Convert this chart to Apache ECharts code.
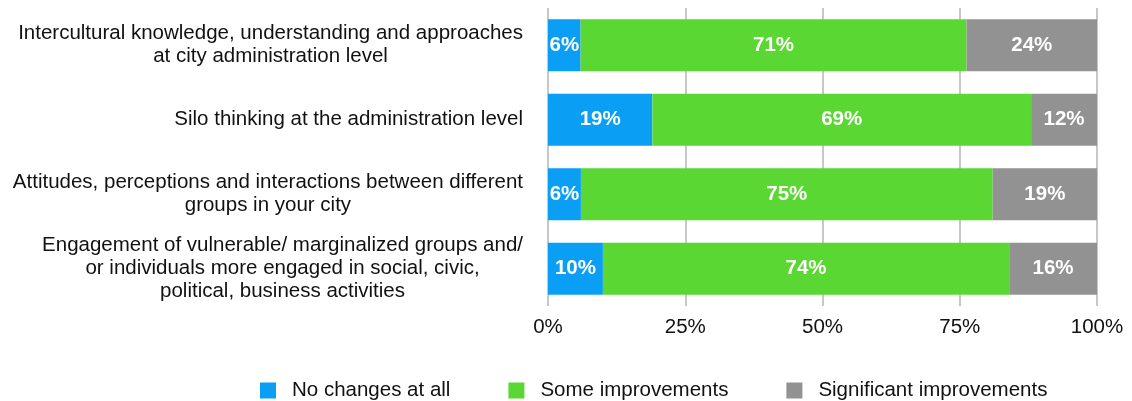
<!DOCTYPE html>
<html>
<head>
<meta charset="utf-8">
<title>Perceived changes</title>
<script src="https://cdn.jsdelivr.net/npm/echarts@6/dist/echarts.min.js"></script>
<style>
  html, body { margin: 0; padding: 0; background: #ffffff; }
  #chart { width: 1132px; height: 401px; }
</style>
</head>
<body>
<div id="chart"></div>
<script>
// Survey answers, one entry per area of change (top to bottom)
const categories = [
  'Intercultural knowledge, understanding and approaches\nat city administration level',
  'Silo thinking at the administration level',
  'Attitudes, perceptions and interactions between different\ngroups in your city',
  'Engagement of vulnerable/ marginalized groups and/\nor individuals more engaged in social, civic,\npolitical, business activities'
];
const noChanges = [6, 19, 6, 10];
const someImprovements = [71, 69, 75, 74];
const significantImprovements = [24, 12, 19, 16];
const seriesNames = ['No changes at all', 'Some improvements', 'Significant improvements'];
const xTickValues = [0, 25, 50, 75, 100];

const colors = ['#0a9ff5', '#5bd733', '#929292'];
const FONT = '"Liberation Sans", Arial, Helvetica, sans-serif';
const FS = 20.5;

// Each row is shown as shares of its own total (100% stacked)
const rows = [noChanges, someImprovements, significantImprovements];
const totals = categories.map((_, i) => rows.reduce((s, r) => s + r[i], 0));
const shareOf = (arr) => arr.map((v, i) => ({ value: v / totals[i] * 100, raw: v }));

const chart = echarts.init(document.getElementById('chart'), null, { renderer: 'canvas' });

const barSeries = rows.map((arr, k) => ({
  name: seriesNames[k],
  type: 'bar',
  stack: 'total',
  barWidth: 52,
  data: shareOf(arr),
  itemStyle: { color: colors[k] },
  emphasis: { disabled: true },
  label: {
    show: true,
    position: 'inside',
    color: '#ffffff',
    fontFamily: FONT,
    fontSize: FS,
    fontWeight: 'bold',
    formatter: (p) => p.data.raw + '%'
  }
}));

chart.setOption({
  animation: false,
  backgroundColor: '#ffffff',
  textStyle: { fontFamily: FONT },
  grid: { left: 548, right: 35, top: 8, bottom: 95, containLabel: false },
  xAxis: {
    type: 'value',
    min: 0,
    max: 100,
    interval: 25,
    axisLine: { show: false },
    axisTick: { show: false },
    splitLine: { show: true, lineStyle: { color: '#b5b5b5', width: 1.5 } },
    axisLabel: {
      margin: 11,
      color: '#111111',
      fontFamily: FONT,
      fontSize: FS,
      formatter: (v) => (xTickValues.includes(v) ? v + '%' : '')
    }
  },
  yAxis: {
    type: 'category',
    inverse: true,
    data: categories,
    axisLine: { show: false },
    axisTick: { show: false },
    axisLabel: {
      margin: 25,
      align: 'right',
      color: '#111111',
      fontFamily: FONT,
      fontSize: FS,
      lineHeight: 23,
      // each line centred inside the right-aligned label block
      formatter: (v) => v.split('\n').map((l) => '{c|' + l + '}').join('\n'),
      rich: {
        c: { align: 'center', color: '#111111', fontFamily: FONT, fontSize: FS, lineHeight: 23 }
      }
    }
  },
  legend: {
    left: 255,
    top: 375,
    itemWidth: 16,
    itemHeight: 16,
    itemGap: 58,
    icon: 'rect',
    selectedMode: false,
    data: seriesNames,
    textStyle: {
      color: '#111111',
      fontFamily: FONT,
      fontSize: FS,
      padding: [0, 0, 0, 11]
    }
  },
  series: barSeries
});
</script>
</body>
</html>
